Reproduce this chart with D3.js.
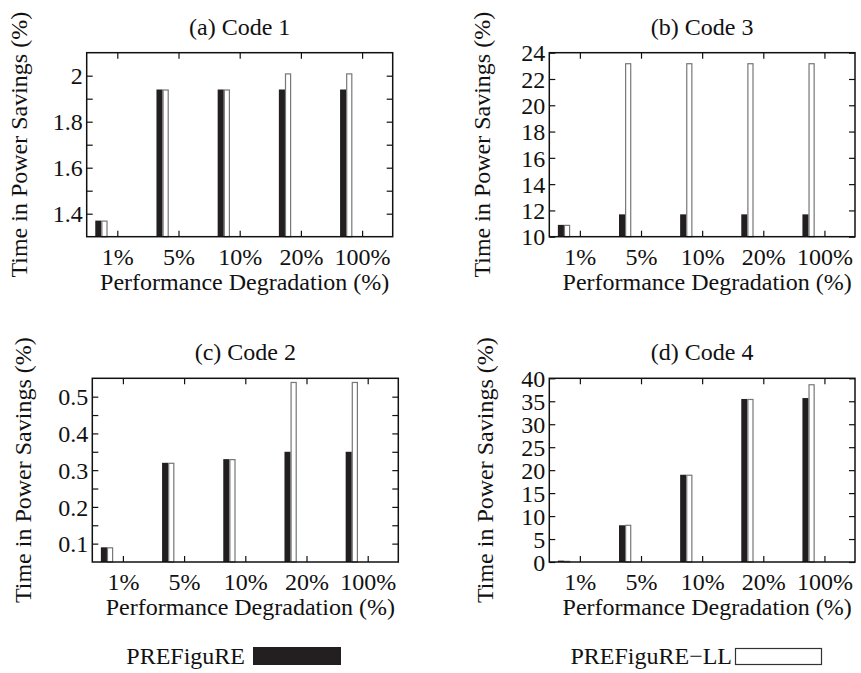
<!DOCTYPE html>
<html>
<head>
<meta charset="utf-8">
<script src="https://cdn.jsdelivr.net/npm/d3@7"></script>
<style>
  body { margin: 0; background: #fff; }
  svg text { font-family: 'Liberation Serif', 'Times New Roman', serif; fill: #111; }
</style>
</head>
<body>
<svg id="fig" width="861" height="673"></svg>
<script>
// categories on the x axis
var categories = ['1%', '5%', '10%', '20%', '100%'];
var seriesNames = ['PREFiguRE', 'PREFiguRE\u2212LL'];

// Code 1
var code1Pref = [1.37, 1.94, 1.94, 1.94, 1.94];
var code1PrefLL = [1.37, 1.94, 1.94, 2.01, 2.01];
// Code 3
var code3Pref = [10.9, 11.7, 11.7, 11.7, 11.7];
var code3PrefLL = [10.9, 23.2, 23.2, 23.2, 23.2];
// Code 2
var code2Pref = [0.09, 0.32, 0.33, 0.35, 0.35];
var code2PrefLL = [0.09, 0.32, 0.33, 0.54, 0.54];
// Code 4
var code4Pref = [0.3, 8.0, 19.0, 35.5, 35.7];
var code4PrefLL = [0.25, 8.1, 19.0, 35.5, 38.7];

// y axis ranges + ticks
var code1Y = [1.3, 2.1], code1Ticks = [1.4, 1.5, 1.6, 1.7, 1.8, 1.9, 2.0], code1Labels = [1.4, 1.6, 1.8, 2.0];
var code3Y = [10, 24], code3Ticks = [10, 12, 14, 16, 18, 20, 22, 24];
var code2Y = [0.05, 0.55], code2Ticks = [0.1, 0.15, 0.2, 0.25, 0.3, 0.35, 0.4, 0.45, 0.5], code2Labels = [0.1, 0.2, 0.3, 0.4, 0.5];
var code4Y = [0, 40], code4Ticks = [0, 5, 10, 15, 20, 25, 30, 35, 40];

var svg = d3.select('#fig');
var FONT = 24;

function draw_panel(opt) {
    var x = d3.scaleLinear().domain([-0.5, 4.5]).range([opt.left, opt.right]);
    var y = d3.scaleLinear().domain(opt.yDomain).range([opt.bottom, opt.top]);
    var g = svg.append('g');

    // bars
    var rows = categories.map(function(c, i) { return {i: i, a: opt.a[i], b: opt.b[i]}; });
    g.selectAll('rect.pref').data(rows).enter().append('rect')
        .attr('class', 'pref')
        .attr('x', function(d) { return x(d.i - 0.36); })
        .attr('width', function(d) { return x(d.i - 0.26) - x(d.i - 0.36); })
        .attr('y', function(d) { return y(d.a); })
        .attr('height', function(d) { return y(opt.yDomain[0]) - y(d.a); })
        .attr('fill', '#231f20');
    g.selectAll('rect.prefll').data(rows).enter().append('rect')
        .attr('class', 'prefll')
        .attr('x', function(d) { return x(d.i - 0.26) + 0.5; })
        .attr('width', function(d) { return x(d.i - 0.16) - x(d.i - 0.26) - 1; })
        .attr('y', function(d) { return y(d.b) + 0.5; })
        .attr('height', function(d) { return Math.max(0, y(opt.yDomain[0]) - y(d.b) - 0.5); })
        .attr('fill', '#fff')
        .attr('stroke', '#777')
        .attr('stroke-width', 1.2);

    var labelSet = opt.labels || opt.ticks;
    var fmt = function(v) {
        var hit = labelSet.some(function(l) { return Math.abs(l - v) < 1e-9; });
        return hit ? d3.format('~g')(v) : '';
    };

    // y axes (ticks point inward)
    var yl = g.append('g').attr('transform', 'translate(' + opt.left + ',0)')
        .call(d3.axisLeft(y).tickValues(opt.ticks).tickSize(-6).tickPadding(4).tickFormat(fmt));
    yl.selectAll('text').style('font-size', FONT + 'px').attr('dy', '0.34em');
    g.append('g').attr('transform', 'translate(' + opt.right + ',0)')
        .call(d3.axisRight(y).tickValues(opt.ticks).tickSize(-6).tickFormat(''));

    // x axes
    var xb = g.append('g').attr('transform', 'translate(0,' + opt.bottom + ')')
        .call(d3.axisBottom(x).tickValues([0, 1, 2, 3, 4]).tickSize(-6)
            .tickFormat(function(i) { return categories[i]; }));
    xb.selectAll('text').style('font-size', FONT + 'px').attr('y', 28).attr('dy', 0);
    g.append('g').attr('transform', 'translate(0,' + opt.top + ')')
        .call(d3.axisTop(x).tickValues([0, 1, 2, 3, 4]).tickSize(-6).tickFormat(''));

    g.selectAll('.domain').remove();
    g.selectAll('.tick line').attr('stroke', '#111').attr('stroke-width', 1.2);

    // frame
    g.append('rect')
        .attr('x', opt.left).attr('y', opt.top)
        .attr('width', opt.right - opt.left).attr('height', opt.bottom - opt.top)
        .attr('fill', 'none').attr('stroke', '#111').attr('stroke-width', 1.5);

    // title
    g.append('text')
        .attr('x', (opt.left + opt.right) / 2)
        .attr('y', opt.top - 18)
        .attr('text-anchor', 'middle')
        .style('font-size', FONT + 'px')
        .text(opt.title);

    // x label
    g.append('text')
        .attr('x', (opt.left + opt.right) / 2 + 5)
        .attr('y', opt.bottom + 53)
        .attr('text-anchor', 'middle')
        .style('font-size', FONT + 'px')
        .text('Performance Degradation (%)');

    // y label
    g.append('text')
        .attr('transform', 'translate(' + opt.ylabX + ',' + ((opt.top + opt.bottom) / 2) + ') rotate(-90)')
        .attr('text-anchor', 'middle')
        .attr('dy', '0.35em')
        .style('font-size', FONT + 'px')
        .text('Time in Power Savings (%)');
}

draw_panel({title: '(a) Code 1', a: code1Pref, b: code1PrefLL, yDomain: code1Y, ticks: code1Ticks, labels: code1Labels,
    left: 86.7, right: 392.7, top: 52.7, bottom: 236.7, ylabX: 19});
draw_panel({title: '(b) Code 3', a: code3Pref, b: code3PrefLL, yDomain: code3Y, ticks: code3Ticks,
    left: 549.3, right: 855, top: 52.7, bottom: 236.7, ylabX: 482});
draw_panel({title: '(c) Code 2', a: code2Pref, b: code2PrefLL, yDomain: code2Y, ticks: code2Ticks, labels: code2Labels,
    left: 92.3, right: 398.3, top: 378.3, bottom: 562, ylabX: 23});
draw_panel({title: '(d) Code 4', a: code4Pref, b: code4PrefLL, yDomain: code4Y, ticks: code4Ticks,
    left: 549.3, right: 855, top: 378.3, bottom: 562, ylabX: 485});

// legend
var legend = svg.append('g');
legend.append('text').attr('x', 245).attr('y', 664).attr('text-anchor', 'end')
    .style('font-size', FONT + 'px').text(seriesNames[0]);
legend.append('rect').attr('x', 253).attr('y', 647).attr('width', 88).attr('height', 18)
    .attr('fill', '#231f20');
legend.append('text').attr('x', 732).attr('y', 664).attr('text-anchor', 'end')
    .style('font-size', FONT + 'px').text(seriesNames[1]);
legend.append('rect').attr('x', 735.5).attr('y', 648.5).attr('width', 86).attr('height', 16)
    .attr('fill', '#fff').attr('stroke', '#333').attr('stroke-width', 1.2);
</script>
</body>
</html>
